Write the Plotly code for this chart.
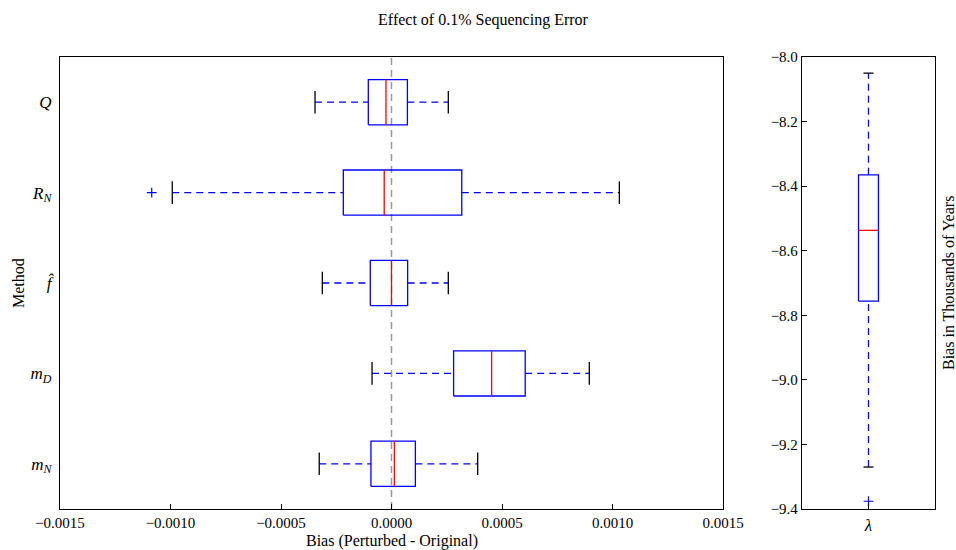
import plotly.graph_objects as go

# ---- data (left panel, bottom to top) ----
method_labels = ["<i>m</i><sub><i>N</i></sub>", "<i>m</i><sub><i>D</i></sub>",
                 "<i>f\u0302</i>", "<i>R</i><sub><i>N</i></sub>", "<i>Q</i>"]
low_whisker = [-3.27e-4, -0.88e-4, -3.13e-4, -9.92e-4, -3.46e-4]
q1_vals     = [-0.93e-4,  2.81e-4, -0.96e-4, -2.18e-4, -1.05e-4]
medians     = [ 0.13e-4,  4.53e-4,  0.00e-4, -0.33e-4, -0.25e-4]
q3_vals     = [ 1.08e-4,  6.05e-4,  0.73e-4,  3.18e-4,  0.72e-4]
high_whisker= [ 3.90e-4,  8.95e-4,  2.57e-4, 10.31e-4,  2.57e-4]
outliers    = [[], [], [], [-10.85e-4], []]
x_ticks = [-0.0015, -0.0010, -0.0005, 0.0, 0.0005, 0.0010, 0.0015]
x_ticktext = ["\u22120.0015", "\u22120.0010", "\u22120.0005", "0.0000", "0.0005", "0.0010", "0.0015"]

# ---- data (right panel) ----
lam_label = "<i>\u03bb</i>"
lam_low, lam_q1, lam_med, lam_q3, lam_high = -9.270, -8.756, -8.537, -8.365, -8.050
lam_outliers = [-9.376]
y2_ticks = [-9.4, -9.2, -9.0, -8.8, -8.6, -8.4, -8.2, -8.0]
y2_ticktext = ["\u22129.4", "\u22129.2", "\u22129.0", "\u22128.8", "\u22128.6", "\u22128.4", "\u22128.2", "\u22128.0"]

BLUE = "#0000ff"
RED = "#ff0000"
FONT = "Liberation Serif"
W, H = 956, 550

fig = go.Figure()

# left panel: horizontal boxes
hw = 0.25   # half box height
cw = 0.125  # half cap height
bx, by, mx, my, wx, wy, cx, cy, ox, oy = [], [], [], [], [], [], [], [], [], []
for i in range(len(method_labels)):
    p = i + 1
    bx += [q1_vals[i], q3_vals[i], q3_vals[i], q1_vals[i], q1_vals[i], None]
    by += [p - hw, p - hw, p + hw, p + hw, p - hw, None]
    mx += [medians[i], medians[i], None]
    my += [p - hw, p + hw, None]
    wx += [low_whisker[i], q1_vals[i], None, q3_vals[i], high_whisker[i], None]
    wy += [p, p, None, p, p, None]
    cx += [low_whisker[i], low_whisker[i], None, high_whisker[i], high_whisker[i], None]
    cy += [p - cw, p + cw, None, p - cw, p + cw, None]
    for o in outliers[i]:
        ox.append(o)
        oy.append(p)

# zero reference line
fig.add_trace(go.Scatter(x=[0, 0], y=[0.5, 5.5], mode="lines",
                         line=dict(color="#999999", width=1.5, dash="7px,5px"),
                         xaxis="x", yaxis="y", hoverinfo="skip"))
fig.add_trace(go.Scatter(x=wx, y=wy, mode="lines", line=dict(color=BLUE, width=1.3, dash="7px,5px"),
                         xaxis="x", yaxis="y"))
fig.add_trace(go.Scatter(x=bx, y=by, mode="lines", line=dict(color=BLUE, width=1.3),
                         xaxis="x", yaxis="y"))
fig.add_trace(go.Scatter(x=mx, y=my, mode="lines", line=dict(color=RED, width=1.3),
                         xaxis="x", yaxis="y"))
fig.add_trace(go.Scatter(x=cx, y=cy, mode="lines", line=dict(color="black", width=1.3),
                         xaxis="x", yaxis="y"))
fig.add_trace(go.Scatter(x=ox, y=oy, mode="markers",
                         marker=dict(symbol="cross-thin", size=7, line=dict(color=BLUE, width=1.2)),
                         xaxis="x", yaxis="y"))

# right panel: vertical box
lhw = 0.075
lcw = 0.0375
fig.add_trace(go.Scatter(x=[1, 1, None, 1, 1], y=[lam_low, lam_q1, None, lam_q3, lam_high],
                         mode="lines", line=dict(color=BLUE, width=1.3, dash="7px,5px"),
                         xaxis="x2", yaxis="y2"))
fig.add_trace(go.Scatter(x=[1 - lhw, 1 + lhw, 1 + lhw, 1 - lhw, 1 - lhw],
                         y=[lam_q1, lam_q1, lam_q3, lam_q3, lam_q1],
                         mode="lines", line=dict(color=BLUE, width=1.3), xaxis="x2", yaxis="y2"))
fig.add_trace(go.Scatter(x=[1 - lhw, 1 + lhw], y=[lam_med, lam_med],
                         mode="lines", line=dict(color=RED, width=1.3), xaxis="x2", yaxis="y2"))
fig.add_trace(go.Scatter(x=[1 - lcw, 1 + lcw, None, 1 - lcw, 1 + lcw],
                         y=[lam_low, lam_low, None, lam_high, lam_high],
                         mode="lines", line=dict(color="black", width=1.3), xaxis="x2", yaxis="y2"))
fig.add_trace(go.Scatter(x=[1] * len(lam_outliers), y=lam_outliers, mode="markers",
                         marker=dict(symbol="cross-thin", size=7, line=dict(color=BLUE, width=1.2)),
                         xaxis="x2", yaxis="y2"))

top_px, bot_px = 57, 509
ydom = [1 - bot_px / H, 1 - top_px / H]

line_common = dict(showline=True, linecolor="black", linewidth=1.3, mirror=True,
                   showgrid=False, zeroline=False, automargin=False)
tick_font = dict(family=FONT, size=15, color="black")
cat_font = dict(family=FONT, size=17, color="black")

fig.update_layout(
    width=W, height=H,
    margin=dict(l=0, r=0, t=0, b=0, autoexpand=False),
    paper_bgcolor="white", plot_bgcolor="white",
    showlegend=False,
    font=dict(family=FONT, color="black"),
    title=dict(text="Effect of 0.1% Sequencing Error", x=483 / W, xanchor="center",
               y=1 - 19 / H, yanchor="middle", font=dict(family=FONT, size=16, color="black")),
    xaxis=dict(domain=[60 / W, 723 / W], range=[-0.0015, 0.0015], tickvals=x_ticks,
               ticktext=x_ticktext, ticks="inside", ticklen=5, tickwidth=1, tickcolor="black",
               anchor="y", tickfont=tick_font, **line_common),
    yaxis=dict(domain=ydom, range=[0.5, 5.5], tickvals=[1, 2, 3, 4, 5], ticktext=method_labels,
               ticks="", anchor="x", ticklabelstandoff=4, tickfont=cat_font, **line_common),
    xaxis2=dict(domain=[802 / W, 935 / W], range=[0.5, 1.5], tickvals=[1], ticktext=[lam_label],
                ticks="inside", ticklen=5, tickwidth=1, tickcolor="black", anchor="y2",
                tickfont=cat_font, **line_common),
    yaxis2=dict(domain=ydom, range=[-9.4, -8.0], tickvals=y2_ticks, ticktext=y2_ticktext,
                ticks="inside", ticklen=5, tickwidth=1, tickcolor="black", anchor="x2",
                tickfont=tick_font, **line_common),
    annotations=[
        dict(text="Method", x=18 / W, y=1 - 283 / H, xref="paper", yref="paper",
             textangle=-90, showarrow=False, xanchor="center", yanchor="middle",
             font=dict(family=FONT, size=16, color="black")),
        dict(text="Bias (Perturbed - Original)", x=392 / W, y=1 - 541 / H, xref="paper",
             yref="paper", showarrow=False, xanchor="center", yanchor="middle",
             font=dict(family=FONT, size=16, color="black")),
        dict(text="Bias in Thousands of Years", x=948 / W, y=1 - 283 / H, xref="paper",
             yref="paper", textangle=-90, showarrow=False, xanchor="center", yanchor="middle",
             font=dict(family=FONT, size=16, color="black")),
    ],
)

# remove the default page margin so the figure sits at the window's top-left corner
fig.write_html("out.html", config={"displayModeBar": False},
               post_script="document.body.style.margin='0';")
